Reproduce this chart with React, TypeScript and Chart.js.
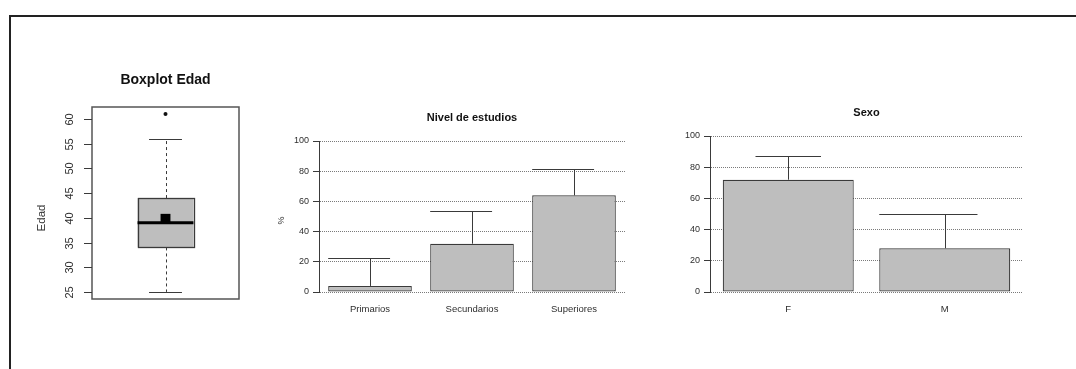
import React, { useEffect, useRef } from 'react';
import { Chart, registerables } from 'chart.js';

Chart.register(...registerables);

const FONT = '"Liberation Sans", Arial, Helvetica, sans-serif';

// ---- Data ----
const edadTicks = [25, 30, 35, 40, 45, 50, 55, 60];
const edadFive = [25, 34, 39, 44, 56]; // min, Q1, median, Q3, max (whiskers)
const edadMean = [39.8];
const edadOutliers = [61];

const nivelLabels = ['Primarios', 'Secundarios', 'Superiores'];
const nivelValues = [4, 32, 64];
const nivelUpper = [22.5, 53.5, 81.5];

const sexoLabels = ['F', 'M'];
const sexoValues = [72, 28];
const sexoUpper = [87, 50];

const pctTicks = [0, 20, 40, 60, 80, 100];

// ---- Styles ----
const LINE = '#3a3a3a';
const TEXT = '#2e2e2e';
const BAR = '#bebebe';

function crisp(v: number) {
  return Math.round(v) + 0.5;
}

const boxPlugin = {
  id: 'boxplotEdad',
  beforeDatasetsDraw(chart: any) {
    const { ctx, scales } = chart;
    const x = scales.x;
    const y = scales.y;
    const [mn, q1, med, q3, mx] = edadFive;
    const cx = x.getPixelForValue(1);
    const hw = x.getPixelForValue(1.19) - cx;
    const cw = x.getPixelForValue(1.112) - cx;
    ctx.save();
    ctx.strokeStyle = LINE;
    ctx.lineWidth = 1;
    ctx.setLineDash([3, 3]);
    ctx.beginPath();
    ctx.moveTo(crisp(cx), y.getPixelForValue(q3));
    ctx.lineTo(crisp(cx), y.getPixelForValue(mx));
    ctx.moveTo(crisp(cx), y.getPixelForValue(q1));
    ctx.lineTo(crisp(cx), y.getPixelForValue(mn));
    ctx.stroke();
    ctx.setLineDash([]);
    ctx.beginPath();
    ctx.moveTo(cx - cw, crisp(y.getPixelForValue(mx)));
    ctx.lineTo(cx + cw, crisp(y.getPixelForValue(mx)));
    ctx.moveTo(cx - cw, crisp(y.getPixelForValue(mn)));
    ctx.lineTo(cx + cw, crisp(y.getPixelForValue(mn)));
    ctx.stroke();
    const yTop = y.getPixelForValue(q3);
    const yBot = y.getPixelForValue(q1);
    ctx.fillStyle = BAR;
    ctx.fillRect(cx - hw, yTop, 2 * hw, yBot - yTop);
    ctx.lineWidth = 1.3;
    ctx.strokeRect(Math.round(cx - hw) + 0.5, Math.round(yTop) + 0.5, Math.round(2 * hw), Math.round(yBot - yTop));
    ctx.strokeStyle = '#000';
    ctx.lineWidth = 3;
    ctx.beginPath();
    ctx.moveTo(cx - hw, y.getPixelForValue(med));
    ctx.lineTo(cx + hw, y.getPixelForValue(med));
    ctx.stroke();
    ctx.restore();
  },
  afterDraw(chart: any) {
    const { ctx, chartArea: a, scales } = chart;
    const y = scales.y;
    ctx.save();
    ctx.strokeStyle = '#555';
    ctx.lineWidth = 1.5;
    ctx.strokeRect(a.left, a.top, a.right - a.left, a.bottom - a.top);
    ctx.lineWidth = 1;
    ctx.strokeStyle = LINE;
    ctx.fillStyle = TEXT;
    ctx.font = `11px ${FONT}`;
    ctx.textAlign = 'center';
    ctx.textBaseline = 'middle';
    edadTicks.forEach((v) => {
      const py = crisp(y.getPixelForValue(v));
      ctx.beginPath();
      ctx.moveTo(a.left - 8, py);
      ctx.lineTo(a.left, py);
      ctx.stroke();
      ctx.save();
      ctx.translate(a.left - 22, py);
      ctx.rotate(-Math.PI / 2);
      ctx.fillText(String(v), 0, 0);
      ctx.restore();
    });
    ctx.save();
    ctx.font = `11.5px ${FONT}`;
    ctx.translate(a.left - 50, (a.top + a.bottom) / 2 + 15);
    ctx.rotate(-Math.PI / 2);
    ctx.fillText('Edad', 0, 0);
    ctx.restore();
    ctx.fillStyle = '#111';
    ctx.font = `bold 14px ${FONT}`;
    ctx.fillText('Boxplot Edad', (a.left + a.right) / 2, a.top - 27);
    ctx.restore();
  },
};

function makeBarPlugin(upper: number[], caps: number[][], title: string, yLabel: string | null) {
  return {
    id: 'barExtras',
    afterDatasetsDraw(chart: any) {
      const { ctx, scales } = chart;
      const y = scales.y;
      const meta = chart.getDatasetMeta(0);
      ctx.save();
      ctx.strokeStyle = LINE;
      ctx.lineWidth = 1;
      meta.data.forEach((bar: any, i: number) => {
        const bx = bar.x;
        const by = bar.y;
        const w = bar.width;
        const yu = crisp(y.getPixelForValue(upper[i]));
        ctx.beginPath();
        ctx.moveTo(crisp(bx), by);
        ctx.lineTo(crisp(bx), yu);
        ctx.moveTo(bx + caps[i][0] * w, yu);
        ctx.lineTo(bx + caps[i][1] * w, yu);
        ctx.stroke();
      });
      ctx.restore();
    },
    afterDraw(chart: any) {
      const { ctx, chartArea: a } = chart;
      ctx.save();
      ctx.fillStyle = '#111';
      ctx.textAlign = 'center';
      ctx.textBaseline = 'middle';
      ctx.font = `bold 11px ${FONT}`;
      ctx.fillText(title, (a.left + a.right) / 2, a.top - 23);
      if (yLabel) {
        ctx.fillStyle = TEXT;
        ctx.font = `9px ${FONT}`;
        ctx.translate(a.left - 37, (a.top + a.bottom) / 2 + 4);
        ctx.rotate(-Math.PI / 2);
        ctx.fillText(yLabel, 0, 0);
      }
      ctx.restore();
    },
  };
}

function barConfig(
  labels: string[],
  values: number[],
  upper: number[],
  caps: number[][],
  title: string,
  yLabel: string | null,
  barPct: number,
  padding: any,
  yWidth: number
): any {
  return {
    type: 'bar',
    data: {
      labels,
      datasets: [
        {
          data: values,
          backgroundColor: BAR,
          borderColor: LINE,
          borderWidth: 1.2,
          borderSkipped: false,
          barPercentage: barPct,
          categoryPercentage: 1,
        },
      ],
    },
    options: {
      animation: false,
      responsive: false,
      maintainAspectRatio: false,
      layout: { padding },
      scales: {
        x: {
          grid: { display: false, drawTicks: false },
          border: { display: false },
          ticks: { font: { family: FONT, size: 9.5 }, color: TEXT, padding: 12 },
          afterFit: (s: any) => {
            s.height = 38;
          },
        },
        y: {
          min: 0,
          max: 100,
          afterBuildTicks: (s: any) => {
            s.ticks = pctTicks.map((v) => ({ value: v }));
          },
          grid: {
            color: '#7a7a7a',
            lineWidth: 1,
            tickLength: 6,
            tickColor: LINE,
            tickBorderDash: [],
            tickWidth: 1,
          },
          border: { display: true, color: LINE, width: 1, dash: [1, 1] },
          ticks: { font: { family: FONT, size: 9 }, color: TEXT, padding: 4 },
          afterFit: (s: any) => {
            s.width = yWidth;
          },
        },
      },
      plugins: { legend: { display: false }, tooltip: { enabled: false }, title: { display: false } },
    },
    plugins: [makeBarPlugin(upper, caps, title, yLabel)],
  };
}

function ChartCanvas({ config, left, top, width, height }: any) {
  const ref = useRef<HTMLCanvasElement>(null);
  useEffect(() => {
    if (!ref.current) return;
    const c = new Chart(ref.current, config());
    return () => c.destroy();
  }, []);
  return (
    <canvas
      ref={ref}
      width={width}
      height={height}
      style={{ position: 'absolute', left, top, width, height, display: 'block' }}
    />
  );
}

const boxConfig = (): any => ({
  type: 'scatter',
  data: {
    datasets: [
      {
        data: edadOutliers.map((v) => ({ x: 1, y: v })),
        pointStyle: 'circle',
        pointRadius: 2,
        backgroundColor: '#111',
        borderColor: '#111',
        borderWidth: 0,
      },
      {
        data: edadMean.map((v) => ({ x: 1, y: v })),
        pointStyle: 'rect',
        pointRadius: 7,
        backgroundColor: '#000',
        borderColor: '#000',
        borderWidth: 0,
      },
    ],
  },
  options: {
    animation: false,
    responsive: false,
    maintainAspectRatio: false,
    layout: { padding: { left: 92, top: 107, right: 21, bottom: 31 } },
    scales: {
      x: { type: 'linear', min: 0.5, max: 1.5, display: false },
      y: { type: 'linear', min: 23.56, max: 62.44, display: false },
    },
    plugins: { legend: { display: false }, tooltip: { enabled: false } },
  },
  plugins: [boxPlugin],
});

const nivelCaps = [
  [-0.5, 0.24],
  [-0.5, 0.24],
  [-0.5, 0.24],
];
const sexoCaps = [
  [-0.25, 0.25],
  [-0.5, 0.25],
];

export default function App() {
  return (
    <div
      style={{
        position: 'absolute',
        left: 0,
        top: 0,
        width: 1076,
        height: 369,
        background: '#fff',
        overflow: 'hidden',
      }}
    >
      <div
        style={{
          position: 'absolute',
          left: 9,
          top: 15,
          right: -4,
          bottom: -4,
          borderLeft: '2px solid #222',
          borderTop: '2px solid #222',
        }}
      />
      <ChartCanvas config={boxConfig} left={0} top={0} width={260} height={330} />
      <ChartCanvas
        config={() =>
          barConfig(nivelLabels, nivelValues, nivelUpper, nivelCaps, 'Nivel de estudios', '%', 0.82, { left: 0, top: 46, right: 15, bottom: 0 }, 59)
        }
        left={260}
        top={95}
        width={380}
        height={235}
      />
      <ChartCanvas
        config={() =>
          barConfig(sexoLabels, sexoValues, sexoUpper, sexoCaps, 'Sexo', null, 0.837, { left: 0, top: 41, right: 53, bottom: 0 }, 70)
        }
        left={640}
        top={95}
        width={436}
        height={235}
      />
    </div>
  );
}
